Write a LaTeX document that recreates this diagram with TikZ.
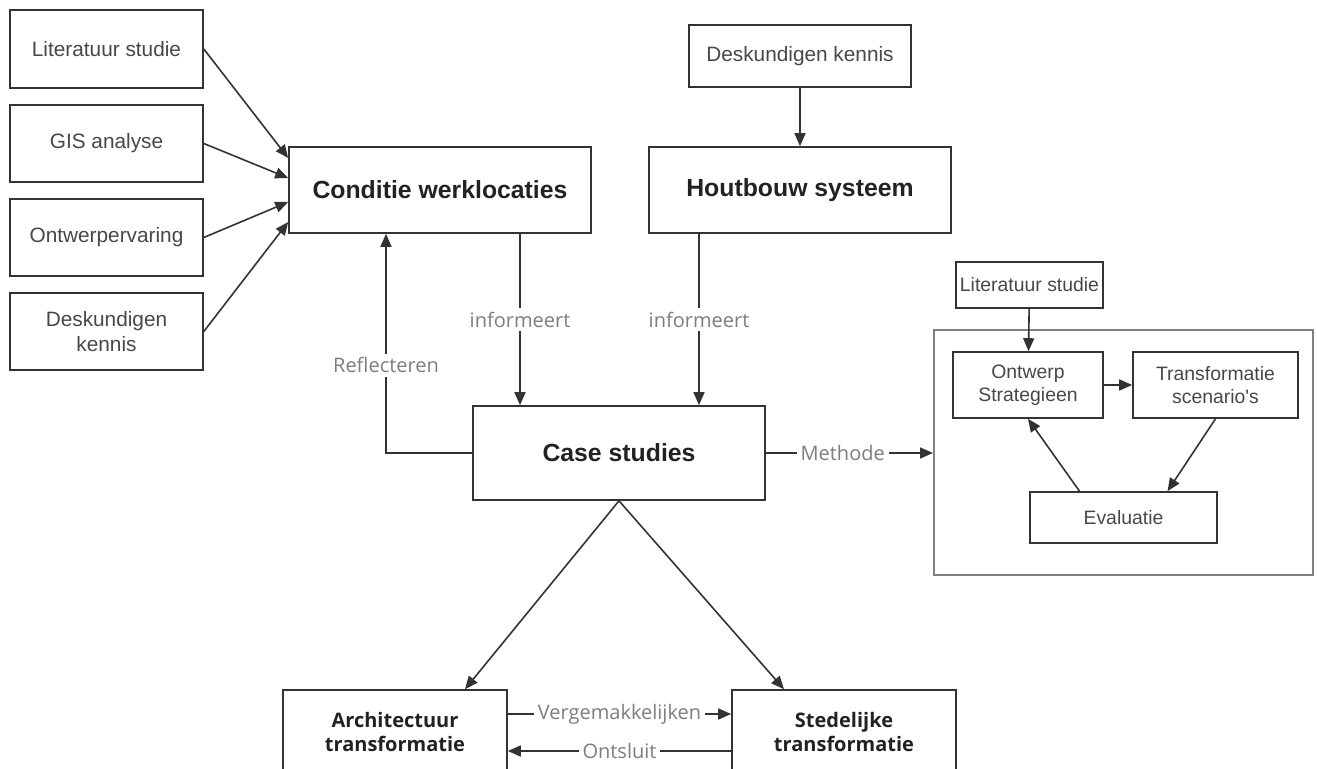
\documentclass[tikz,border=0pt]{standalone}
\usepackage{fontspec}
\setmainfont{Liberation Sans}
\newfontfamily\labelfont{Open Sans}
\usepackage{xcolor}
\usetikzlibrary{positioning, arrows.meta, calc}
\definecolor{mline}{HTML}{333333}
\definecolor{mtext}{HTML}{474747}
\definecolor{mbold}{HTML}{222222}
\definecolor{mlabel}{HTML}{7E7E7E}
\colorlet{mframe}{black!50}
\tikzset{
  >={Triangle[length=6.5pt,width=5.5pt]}, % filled arrow heads
  box/.style={draw=mline,line width=0.8pt,minimum width=96.5pt,minimum height=38.75pt,align=center,text=mtext,inner sep=2pt,font=\fontsize{10.4}{12.6}\selectfont},
  box main/.style={box,minimum width=151pt,minimum height=43pt,text=mbold,font=\fontsize{12.4}{15}\selectfont\bfseries},
  box small/.style={box,font=\fontsize{9.7}{11.6}\selectfont},
  box end/.style={box,minimum width=112pt,minimum height=42pt,text=mbold,font=\labelfont\fontsize{10}{12}\selectfont\bfseries},
  connect arrow/.style={->,line width=0.8pt,mline},
  lbl/.style={fill=white,text=mlabel,inner sep=2pt,font=\labelfont\fontsize{10}{12}\selectfont}
}

\begin{document}
\begin{tikzpicture}[x=0.5pt,y=-0.5pt]
  \useasboundingbox (0,0) rectangle (1317,769);
  \clip (0,0) rectangle (1317,769);

  % inputs on the left
  \node[box] (lit) at (106.5,49) {Literatuur studie};
  \node[box] (gis) at (106.5,143.5) {GIS analyse};
  \node[box] (ontw) at (106.5,237.5) {Ontwerpervaring};
  \node[box] (desk) at (106.5,331.5) {Deskundigen\\kennis};

  % main nodes
  \node[box main] (cond) at (440,190) {Conditie werklocaties};
  \node[box,minimum width=111pt,minimum height=31pt] (deskh) at (800,56) {Deskundigen kennis};
  \node[box main] (hout) at (800,190) {Houtbouw systeem};
  \node[box main,minimum width=146pt,minimum height=47pt] (case) at (619,453) {Case studies};
  \node[box end] (arch) at (395,732) {Architectuur\\transformatie};
  \node[box end] (sted) at (844,732) {Stedelijke\\transformatie};

  % method cycle
  \node[draw=mframe,line width=1pt,minimum width=189.5pt,minimum height=122.5pt] (meth) at (1123.5,452.5) {};
  \node[box small,minimum width=73.5pt,minimum height=23pt] (litr) at (1029.5,285) {Literatuur studie};
  \node[box small,minimum width=75pt,minimum height=33pt] (strat) at (1028,385) {Ontwerp\\Strategieen};
  \node[box small,minimum width=82.5pt,minimum height=33pt] (scen) at (1215.5,385) {Transformatie\\scenario\textquotesingle s};
  \node[box small,minimum width=93.5pt,minimum height=25.5pt] (eval) at (1123.5,517.5) {Evaluatie};

  % arrows into the conditions
  \draw[connect arrow] (lit.east) -- ([yshift=16pt]cond.west);
  \draw[connect arrow] (gis.east) -- ([yshift=6pt]cond.west);
  \draw[connect arrow] (ontw.east) -- ([yshift=-6pt]cond.west);
  \draw[connect arrow] (desk.east) -- ([yshift=-16pt]cond.west);
  \draw[connect arrow] (deskh) -- (hout);

  % arrows & labels round the case studies
  \draw[connect arrow] ([xshift=40pt]cond.south) -- node[lbl] {informeert} ([xshift=40pt]cond.south |- case.north);
  \draw[connect arrow] ([xshift=-50.5pt]hout.south) -- node[lbl] {informeert} ([xshift=-50.5pt]hout.south |- case.north);
  \draw[connect arrow] (case.west) -| node[lbl,pos=0.7] {Reflecteren} ([xshift=-27pt]cond.south);
  \draw[connect arrow] (case.east) -- node[lbl,pos=0.46] {Methode} (case.east -| meth.west);
  \draw[connect arrow] (case.south) -- ([xshift=35pt]arch.north);
  \draw[connect arrow] (case.south) -- ([xshift=-30pt]sted.north);
  \draw[connect arrow] ([yshift=9pt]arch.east) -- node[lbl] {Vergemakkelijken} ([yshift=9pt]arch.east -| sted.west);
  \draw[connect arrow] ([yshift=-9.5pt]sted.west) -- node[lbl] {Ontsluit} ([yshift=-9.5pt]sted.west -| arch.east);

  % arrows in the method
  \draw[connect arrow] (litr) -- (strat);
  \draw[connect arrow] (strat) -- (scen);
  \draw[connect arrow] (scen.south) -- ([xshift=22pt]eval.north);
  \draw[connect arrow] ([xshift=-22pt]eval.north) -- (strat.south);

\end{tikzpicture}
\end{document}
